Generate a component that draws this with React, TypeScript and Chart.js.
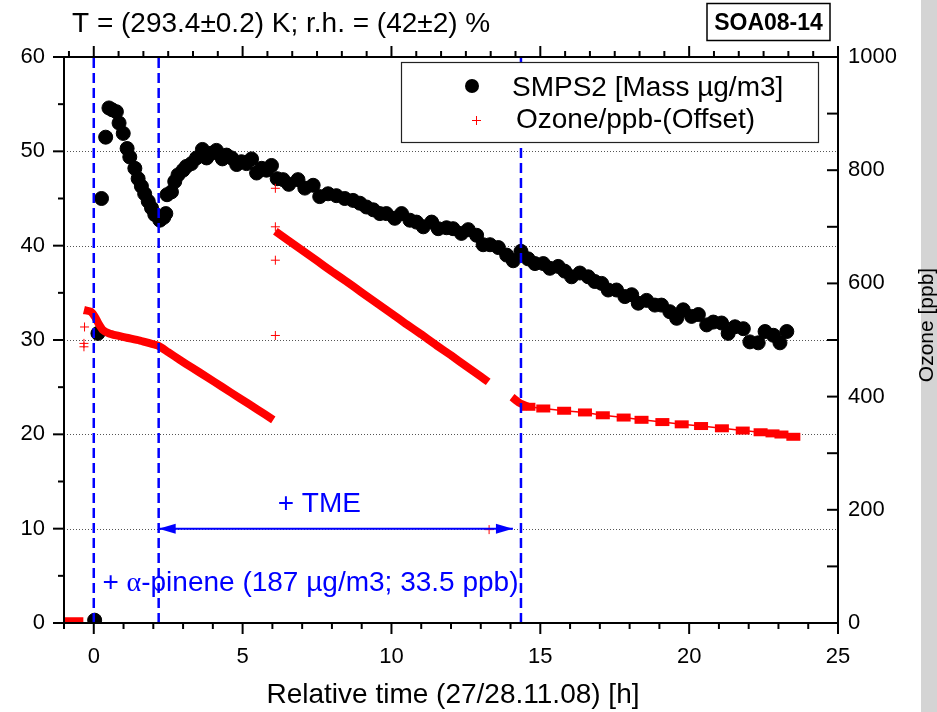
import React, { useEffect, useRef } from "react";
import { Chart, registerables } from "chart.js";

Chart.register(...registerables);

// ---------- DATA ----------
const smpsTime = [
  0.03, 0.14, 0.26, 0.4, 0.51, 0.62, 0.76, 0.85, 0.99, 1.12, 1.21, 1.38, 1.49, 1.6, 1.71, 1.83, 1.94,
  2.05, 2.22, 2.35, 2.42, 2.46, 2.61, 2.72, 2.83, 3.0, 3.11, 3.28, 3.45, 3.65, 3.79, 3.95, 4.12, 4.32,
  4.46, 4.63, 4.8, 4.96, 5.13, 5.3, 5.47, 5.64, 5.8, 5.97, 6.16, 6.36, 6.55, 6.86, 7.09, 7.37, 7.59,
  7.87, 8.15, 8.43, 8.71, 8.94, 9.16, 9.39, 9.61, 9.83, 10.11, 10.34, 10.62, 10.84, 11.07, 11.35,
  11.57, 11.85, 12.07, 12.35, 12.58, 12.86, 13.08, 13.31, 13.59, 13.87, 14.09, 14.35, 14.59, 14.82,
  15.1, 15.32, 15.6, 15.82, 16.05, 16.33, 16.61, 16.83, 17.06, 17.28, 17.56, 17.84, 18.07, 18.29,
  18.57, 18.85, 19.07, 19.35, 19.58, 19.8, 20.08, 20.31, 20.59, 20.81, 21.09, 21.31, 21.54, 21.82,
  22.04, 22.32, 22.55, 22.83, 23.05, 23.28,
];
const smpsMass = [
  0.3, 30.7, 45.0, 51.5, 54.6, 54.4, 54.2, 53.0, 51.9, 50.3, 49.4, 48.2, 47.1, 46.3, 45.5, 44.7, 44.0,
  43.3, 42.7, 43.0, 43.4, 45.4, 45.7, 46.8, 47.5, 48.0, 48.4, 48.7, 49.3, 50.2, 49.3, 49.8, 50.1, 49.2,
  49.6, 49.3, 48.6, 48.9, 48.7, 49.2, 47.7, 48.2, 48.0, 48.5, 47.1, 47.0, 46.5, 47.0, 46.1, 46.4, 45.2,
  45.5, 45.3, 45.0, 44.8, 44.5, 44.1, 43.8, 43.4, 43.4, 42.9, 43.4, 42.7, 42.5, 42.0, 42.5,
  41.8, 41.9, 41.8, 41.3, 41.7, 41.1, 40.1, 40.1, 39.8, 39.0, 38.4, 39.4, 38.6, 38.1,
  38.1, 37.6, 37.8, 37.3, 36.7, 37.1, 36.7, 36.2, 36.0, 35.3, 35.3, 34.6, 34.8, 33.9,
  34.2, 33.7, 33.7, 33.0, 32.3, 33.2, 32.5, 32.7, 31.6, 31.9, 31.8, 30.7, 31.4, 31.2,
  29.8, 29.7, 30.9, 30.5, 29.7, 30.9,
];

// ozone (ppb, right axis) – dense measurement band, read as segments
const ozoneBaseTime = [-1.0, -0.67, -0.35];
const ozoneBasePpb = [3, 3, 3];
const ozoneSeg1Time = [-0.33, -0.1, 0.05, 0.15, 0.3, 0.5, 0.76, 1.1, 1.55, 1.9, 2.16, 2.5, 2.89, 3.3, 3.79, 4.3, 4.91, 5.5, 6.03];
const ozoneSeg1Ppb = [553, 550, 540, 530, 518, 512, 508, 504, 499, 494, 490, 478.5, 465, 451, 435, 417.5, 397, 377, 359];
const ozoneSeg2Time = [6.1, 6.5, 7.0, 7.5, 8.0, 8.5, 9.0, 9.5, 10.0, 10.5, 11.0, 11.5, 12.0, 12.5, 13.0, 13.25];
const ozoneSeg2Ppb = [692, 677, 658.5, 640, 621, 603, 584, 565.5, 547, 528, 510, 491, 473, 454, 435.5, 426];
const ozoneSeg3Time = [14.05, 14.3, 14.6];
const ozoneSeg3Ppb = [399, 389, 382];
const ozoneTailTime = [14.6, 15.1, 15.8, 16.5, 17.1, 17.8, 18.4, 19.1, 19.75, 20.4, 21.1, 21.8, 22.4, 22.8, 23.1, 23.5];
const ozoneTailPpb = [382, 379, 375, 372, 367, 363, 359, 355, 351, 348, 344, 340, 337, 335, 333, 329];
const ozoneOutTime = [-0.31, -0.33, -0.33, 6.1, 6.1, 6.1, 6.1, 13.28];
const ozoneOutPpb = [523, 494, 488, 768, 700, 641, 508, 165];

// events
const eventTimes = [0, 2.18, 14.35];
const tmeArrowTime = [2.18, 14.08];
const tmeArrowLevel = 10;

// ticks
const xTickValues = [0, 5, 10, 15, 20, 25];
const yTickValues = [0, 10, 20, 30, 40, 50, 60];
const y2TickValues = [0, 200, 400, 600, 800, 1000];
const gridValues = [10, 20, 30, 40, 50];

// texts
const titleText = "T = (293.4±0.2) K; r.h. = (42±2) %";
const idText = "SOA08-14";
const xTitle = "Relative time (27/28.11.08) [h]";
const y2Title = "Ozone [ppb]";
const legendLabels = ["SMPS2 [Mass µg/m3]", "Ozone/ppb-(Offset)"];
const tmeText = "+ TME";
const pinenePrefix = "+ ";
const pineneAlpha = "α";
const pineneRest = "-pinene (187 µg/m3; 33.5 ppb)";

// annotation anchor positions (data coords)
const tmeTextPos = { x: 6.18, y: 11.77 };
const pineneTextPos = { x: 0.29, y: 3.42 };

const FONT = "'Liberation Sans', Arial, Helvetica, sans-serif";
const BLUE = "#0000ff";
const RED = "#ff0000";

const pairs = (t: number[], v: number[]) => t.map((x, i) => ({ x, y: v[i] }));

const overlayPlugin = {
  id: "overlay",
  beforeDraw(chart: any) {
    const { ctx, width, height } = chart;
    ctx.save();
    ctx.fillStyle = "#ffffff";
    ctx.fillRect(0, 0, width, height);
    ctx.fillStyle = "#d4d4d4";
    ctx.fillRect(921, 0, width - 921, height);
    ctx.restore();
  },
  beforeDatasetsDraw(chart: any) {
    const { ctx, chartArea: a, scales } = chart;
    ctx.save();
    ctx.strokeStyle = "#555";
    ctx.lineWidth = 1;
    ctx.setLineDash([1, 2]);
    for (const g of gridValues) {
      const py = Math.round(scales.y.getPixelForValue(g)) + 0.5;
      ctx.beginPath();
      ctx.moveTo(a.left, py);
      ctx.lineTo(a.right, py);
      ctx.stroke();
    }
    ctx.restore();
  },
  afterDatasetsDraw(chart: any) {
    const { ctx, chartArea: a, scales } = chart;
    const xs = scales.x, ys = scales.y;
    ctx.save();
    // frame
    ctx.strokeStyle = "#000";
    ctx.lineWidth = 2;
    ctx.setLineDash([]);
    ctx.strokeRect(a.left, a.top, a.right - a.left, a.bottom - a.top);
    const seg = (x1: number, y1: number, x2: number, y2: number) => {
      ctx.beginPath();
      ctx.moveTo(x1, y1);
      ctx.lineTo(x2, y2);
      ctx.stroke();
    };
    // bottom ticks: every 1 h
    for (let v = -1; v <= 25; v++) {
      const px = xs.getPixelForValue(v);
      seg(px, a.bottom, px, a.bottom + (v % 5 === 0 ? 11 : 6));
    }
    // top ticks: major every 5 h, 5 minor between
    for (let i = -1; i <= 30; i++) {
      const v = (i * 5) / 6;
      if (v < -1.001 || v > 25.001) continue;
      const px = xs.getPixelForValue(v);
      seg(px, a.top, px, a.top - (i % 6 === 0 ? 11 : 6));
    }
    // left ticks
    for (let v = 0; v <= 60; v += 5) {
      const py = ys.getPixelForValue(v);
      seg(a.left - (v % 10 === 0 ? 11 : 6), py, a.left, py);
    }
    // right ticks (inward)
    for (let v = 0; v <= 1000; v += 100) {
      const py = scales.y2.getPixelForValue(v);
      seg(a.right - 11, py, a.right, py);
    }
    // TME arrow heads
    const ay = ys.getPixelForValue(tmeArrowLevel);
    const ax1 = xs.getPixelForValue(tmeArrowTime[0]);
    const ax2 = xs.getPixelForValue(tmeArrowTime[1]);
    ctx.fillStyle = BLUE;
    ctx.beginPath();
    ctx.moveTo(ax1, ay);
    ctx.lineTo(ax1 + 17, ay - 5);
    ctx.lineTo(ax1 + 17, ay + 5);
    ctx.closePath();
    ctx.fill();
    ctx.beginPath();
    ctx.moveTo(ax2, ay);
    ctx.lineTo(ax2 - 17, ay - 5);
    ctx.lineTo(ax2 - 17, ay + 5);
    ctx.closePath();
    ctx.fill();

    // annotation texts
    ctx.textBaseline = "alphabetic";
    ctx.textAlign = "left";
    ctx.fillStyle = BLUE;
    ctx.font = `28px ${FONT}`;
    ctx.fillText(tmeText, xs.getPixelForValue(tmeTextPos.x), ys.getPixelForValue(tmeTextPos.y));
    let px = xs.getPixelForValue(pineneTextPos.x);
    const py = ys.getPixelForValue(pineneTextPos.y);
    ctx.fillText(pinenePrefix, px, py);
    px += ctx.measureText(pinenePrefix).width;
    ctx.font = `28px 'Liberation Serif', 'DejaVu Serif', serif`;
    ctx.fillText(pineneAlpha, px, py);
    px += ctx.measureText(pineneAlpha).width;
    ctx.font = `28px ${FONT}`;
    ctx.fillText(pineneRest, px, py);

    // legend
    ctx.fillStyle = "#fff";
    ctx.fillRect(401, 62, 417, 80);
    ctx.strokeStyle = "#222";
    ctx.lineWidth = 1.2;
    ctx.strokeRect(401.5, 62.5, 417, 80);
    ctx.fillStyle = "#000";
    ctx.beginPath();
    ctx.arc(472, 86, 7, 0, Math.PI * 2);
    ctx.fill();
    ctx.strokeStyle = RED;
    ctx.lineWidth = 1;
    seg(472, 120.5, 481, 120.5);
    seg(476.5, 116, 476.5, 125);
    ctx.fillStyle = "#000";
    ctx.font = `28px ${FONT}`;
    ctx.fillText(legendLabels[0], 512, 95.5);
    ctx.fillText(legendLabels[1], 516, 128);

    // title
    ctx.fillText(titleText, 72, 31.5);
    // id box
    ctx.strokeStyle = "#000";
    ctx.lineWidth = 1.5;
    ctx.strokeRect(707, 3.5, 123, 37);
    ctx.font = `bold 23px ${FONT}`;
    ctx.textAlign = "center";
    ctx.fillText(idText, 768.5, 30);
    // x axis title
    ctx.font = `28px ${FONT}`;
    ctx.fillText(xTitle, 453, 703);
    // right axis title
    ctx.save();
    ctx.translate(927, 325);
    ctx.rotate(-Math.PI / 2);
    ctx.textBaseline = "middle";
    ctx.font = `21px ${FONT}`;
    ctx.fillText(y2Title, 0, 0);
    ctx.restore();
    ctx.restore();
  },
};

export default function App() {
  const canvasRef = useRef<HTMLCanvasElement | null>(null);

  useEffect(() => {
    const canvas = canvasRef.current;
    if (!canvas) return;

    const vlineData: any[] = [];
    eventTimes.forEach((t) => {
      vlineData.push({ x: t, y: 0 }, { x: t, y: 60 }, { x: t, y: null });
    });

    const bandData: any[] = [
      ...pairs(ozoneBaseTime, ozoneBasePpb),
      { x: -0.34, y: null },
      ...pairs(ozoneSeg1Time, ozoneSeg1Ppb),
      { x: 6.06, y: null },
      ...pairs(ozoneSeg2Time, ozoneSeg2Ppb),
      { x: 13.6, y: null },
      ...pairs(ozoneSeg3Time, ozoneSeg3Ppb),
    ];

    const tickFont = { family: FONT, size: 22 };
    const plain = (v: any) => String(v);

    const chart = new Chart(canvas, {
      type: "line",
      data: {
        datasets: [
          {
            label: "events",
            data: vlineData,
            yAxisID: "y",
            borderColor: BLUE,
            borderWidth: 2.5,
            borderDash: [10, 5],
            pointRadius: 0,
            spanGaps: false,
            clip: 0,
          },
          {
            label: "TME",
            data: tmeArrowTime.map((t) => ({ x: t, y: tmeArrowLevel })),
            yAxisID: "y",
            borderColor: BLUE,
            borderWidth: 2,
            pointRadius: 0,
          },
          {
            label: "ozone outliers",
            data: pairs(ozoneOutTime, ozoneOutPpb),
            yAxisID: "y2",
            showLine: false,
            pointStyle: "cross",
            pointRadius: 4.5,
            pointBorderWidth: 1,
            pointBorderColor: RED,
            pointBackgroundColor: RED,
          },
          {
            label: "ozone tail",
            data: pairs(ozoneTailTime, ozoneTailPpb),
            yAxisID: "y2",
            borderColor: RED,
            borderWidth: 1.5,
            pointStyle: "line",
            pointRadius: 7,
            pointBorderWidth: 8,
            pointBorderColor: RED,
            pointBackgroundColor: RED,
          },
          {
            label: "Ozone/ppb-(Offset)",
            data: bandData,
            yAxisID: "y2",
            borderColor: RED,
            borderWidth: 8,
            borderJoinStyle: "round",
            pointRadius: 0,
            tension: 0.2,
            spanGaps: false,
            clip: 0,
          },
          {
            label: "SMPS2 [Mass µg/m3]",
            data: pairs(smpsTime, smpsMass),
            yAxisID: "y",
            showLine: false,
            pointStyle: "circle",
            pointRadius: 7,
            pointBorderWidth: 1,
            pointBackgroundColor: "#000",
            pointBorderColor: "#000",
            clip: 0,
          },
        ],
      },
      options: {
        responsive: false,
        animation: false,
        events: [],
        layout: { padding: { top: 57, left: 0, right: 0, bottom: 0 } },
        plugins: {
          legend: { display: false },
          tooltip: { enabled: false },
          title: { display: false },
        },
        scales: {
          x: {
            type: "linear",
            position: "bottom",
            min: -1,
            max: 25,
            afterFit: (s: any) => {
              s.height = 89;
            },
            afterBuildTicks: (s: any) => {
              s.ticks = xTickValues.map((v) => ({ value: v }));
            },
            grid: { display: false, drawTicks: false },
            border: { display: false },
            ticks: { font: tickFont, color: "#000", padding: 21, maxRotation: 0, autoSkip: false, callback: plain },
          },
          y: {
            type: "linear",
            position: "left",
            min: 0,
            max: 60,
            afterFit: (s: any) => {
              s.width = 64;
            },
            afterBuildTicks: (s: any) => {
              s.ticks = yTickValues.map((v) => ({ value: v }));
            },
            grid: { display: false, drawTicks: false },
            border: { display: false },
            ticks: { font: tickFont, color: "#000", padding: 19, autoSkip: false, callback: plain },
          },
          y2: {
            type: "linear",
            position: "right",
            min: 0,
            max: 1000,
            afterFit: (s: any) => {
              s.width = 99;
            },
            afterBuildTicks: (s: any) => {
              s.ticks = y2TickValues.map((v) => ({ value: v }));
            },
            grid: { display: false, drawTicks: false },
            border: { display: false },
            ticks: { font: tickFont, color: "#000", padding: 10, autoSkip: false, callback: plain },
          },
        },
      } as any,
      plugins: [overlayPlugin],
    });

    return () => chart.destroy();
  }, []);

  return (
    <div style={{ position: "absolute", left: 0, top: 0, width: 937, height: 712 }}>
      <canvas ref={canvasRef} width={937} height={712} style={{ display: "block" }} />
    </div>
  );
}
